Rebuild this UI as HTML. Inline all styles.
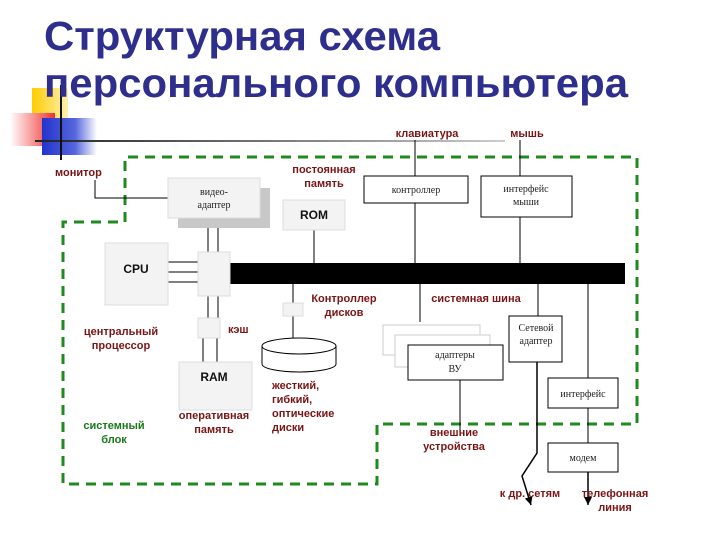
<!DOCTYPE html>
<html><head><meta charset="utf-8"><style>
html,body{margin:0;padding:0;background:#fff;}
svg{display:block;}
.t{font-family:"Liberation Sans",sans-serif;font-weight:bold;fill:#2e2e8c;font-size:41px;}
.r{font-family:"Liberation Sans",sans-serif;font-weight:bold;fill:#7a1515;font-size:11px;}
.g{font-family:"Liberation Sans",sans-serif;font-weight:bold;fill:#1a7a1a;font-size:11px;}
.s{font-family:"Liberation Serif",serif;fill:#222;font-size:10px;}
.b{font-family:"Liberation Sans",sans-serif;font-weight:bold;fill:#111;font-size:12px;}
</style></head><body>
<svg width="720" height="540" viewBox="0 0 720 540" xmlns="http://www.w3.org/2000/svg">
<defs>
<linearGradient id="rg" x1="0" x2="1"><stop offset="0" stop-color="#fff"/><stop offset="1" stop-color="#f03030"/></linearGradient>
<linearGradient id="bg" x1="0" x2="1"><stop offset="0" stop-color="#2233cc"/><stop offset="0.6" stop-color="#5566dd"/><stop offset="1" stop-color="#fff"/></linearGradient>
<linearGradient id="yg" x1="0" x2="1"><stop offset="0" stop-color="#ffcc00"/><stop offset="1" stop-color="#fff0b0"/></linearGradient>
<linearGradient id="lg" x1="0" x2="1"><stop offset="0" stop-color="#222"/><stop offset="1" stop-color="#ccc"/></linearGradient>
<marker id="ar" markerWidth="9" markerHeight="9" refX="8" refY="4" orient="auto" markerUnits="userSpaceOnUse"><path d="M0,0 L8,4 L0,8 z" fill="#000"/></marker>
</defs>
<rect x="32" y="88" width="36" height="30" fill="url(#yg)"/>
<rect x="10" y="113" width="45" height="33" fill="url(#rg)"/>
<rect x="42" y="118" width="55" height="37" fill="url(#bg)"/>
<rect x="35" y="140" width="470" height="2" fill="url(#lg)"/>
<rect x="60" y="85" width="2" height="75" fill="#111"/>
<text class="t" x="44" y="50" textLength="396" lengthAdjust="spacingAndGlyphs">Структурная схема</text>
<text class="t" x="44" y="97" textLength="584" lengthAdjust="spacingAndGlyphs">персонального компьютера</text>
<path d="M125,222 V157 H637 V424 H377 V484 H63 V222 Z" fill="none" stroke="#1f8a1f" stroke-width="3" stroke-dasharray="10,7"/>
<g stroke="#000" stroke-width="1" fill="none">
<path d="M95,180 V198 H168"/>
<path d="M415,140 V263"/>
<path d="M520,140 V263"/>
<path d="M314,230 V263"/>
<path d="M208,225 V263 M218,218 V263"/>
<path d="M168,262 H198 M168,272 H198 M168,282 H198"/>
<path d="M208,296 V318 M218,296 V318 M203,338 V362 M217,338 V362"/>
<path d="M293,284 V303 M293,316 V340"/>
<path d="M420,284 V322"/>
<path d="M460,380 V436"/>
<path d="M538,284 V316"/>
<path d="M588,284 V378 M588,408 V443"/>
</g>
<rect x="230" y="263" width="395" height="21" fill="#000"/>
<rect x="178" y="188" width="92" height="40" fill="#c8c8c8"/>
<rect x="168" y="178" width="92" height="40" fill="#f3f3f3" stroke="#ddd"/>
<text class="s" x="214" y="195" text-anchor="middle">видео-</text>
<text class="s" x="214" y="208" text-anchor="middle">адаптер</text>
<rect x="283" y="200" width="62" height="30" fill="#f3f3f3" stroke="#ddd"/>
<text class="b" x="314" y="219" text-anchor="middle" font-size="11">ROM</text>
<rect x="364" y="176" width="104" height="27" fill="#fff" stroke="#000"/>
<text class="s" x="416" y="193" text-anchor="middle">контроллер</text>
<rect x="481" y="176" width="91" height="41" fill="#fff" stroke="#000"/>
<text class="s" x="526" y="192" text-anchor="middle">интерфейс</text>
<text class="s" x="526" y="205" text-anchor="middle">мыши</text>
<rect x="105" y="243" width="63" height="62" fill="#f3f3f3" stroke="#ddd"/>
<text class="b" x="136" y="273" text-anchor="middle">CPU</text>
<rect x="198" y="252" width="32" height="44" fill="#f3f3f3" stroke="#ddd"/>
<rect x="198" y="318" width="22" height="20" fill="#f3f3f3" stroke="#ddd"/>
<rect x="179" y="362" width="73" height="48" fill="#f3f3f3" stroke="#ddd"/>
<text class="b" x="214" y="381" text-anchor="middle">RAM</text>
<rect x="283" y="303" width="20" height="13" fill="#f3f3f3" stroke="#ddd"/>
<path d="M262,346 V364 A37,8 0 0 0 336,364 V346" fill="#fff" stroke="#000"/>
<ellipse cx="299" cy="346" rx="37" ry="8" fill="#fff" stroke="#000"/>
<rect x="383" y="325" width="97" height="30" fill="#fff" stroke="#ccc"/>
<rect x="395" y="335" width="95" height="32" fill="#fff" stroke="#ccc"/>
<rect x="408" y="345" width="95" height="35" fill="#fff" stroke="#000"/>
<text class="s" x="455" y="358" text-anchor="middle" font-size="9">адаптеры</text>
<text class="s" x="455" y="372" text-anchor="middle" font-size="11">ВУ</text>
<rect x="509" y="316" width="53" height="46" fill="#fff" stroke="#000"/>
<text class="s" x="536" y="331" text-anchor="middle">Сетевой</text>
<text class="s" x="536" y="344" text-anchor="middle">адаптер</text>
<rect x="548" y="378" width="70" height="30" fill="#fff" stroke="#000"/>
<text class="s" x="583" y="397" text-anchor="middle">интерфейс</text>
<rect x="548" y="443" width="70" height="29" fill="#fff" stroke="#000"/>
<text class="s" x="583" y="461" text-anchor="middle">модем</text>
<path d="M537,362 V453 L522,476 L531,505" fill="none" stroke="#000" stroke-width="1.5" marker-end="url(#ar)"/>
<path d="M588,472 V505" fill="none" stroke="#000" stroke-width="1.5" marker-end="url(#ar)"/>
<text class="r" x="55" y="176">монитор</text>
<text class="r" x="324" y="173" text-anchor="middle">постоянная</text>
<text class="r" x="324" y="187" text-anchor="middle">память</text>
<text class="r" x="427" y="137" text-anchor="middle">клавиатура</text>
<text class="r" x="527" y="137" text-anchor="middle">мышь</text>
<text class="r" x="344" y="302" text-anchor="middle">Контроллер</text>
<text class="r" x="344" y="316" text-anchor="middle">дисков</text>
<text class="r" x="476" y="302" text-anchor="middle">системная шина</text>
<text class="r" x="228" y="333">кэш</text>
<text class="r" x="121" y="335" text-anchor="middle">центральный</text>
<text class="r" x="121" y="349" text-anchor="middle">процессор</text>
<text class="r" x="214" y="419" text-anchor="middle">оперативная</text>
<text class="r" x="214" y="433" text-anchor="middle">память</text>
<text class="r" x="272" y="389">жесткий,</text>
<text class="r" x="272" y="403">гибкий,</text>
<text class="r" x="272" y="417">оптические</text>
<text class="r" x="272" y="431">диски</text>
<text class="g" x="114" y="429" text-anchor="middle">системный</text>
<text class="g" x="114" y="443" text-anchor="middle">блок</text>
<text class="r" x="454" y="436" text-anchor="middle">внешние</text>
<text class="r" x="454" y="450" text-anchor="middle">устройства</text>
<text class="r" x="530" y="497" text-anchor="middle">к др. сетям</text>
<text class="r" x="615" y="497" text-anchor="middle">телефонная</text>
<text class="r" x="615" y="511" text-anchor="middle">линия</text>
</svg>
</body></html>
